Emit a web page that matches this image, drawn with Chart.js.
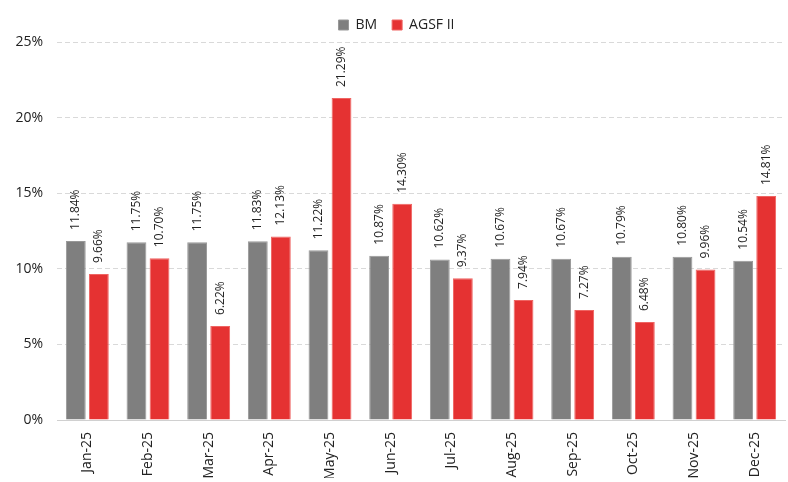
<!DOCTYPE html>
<html><head><meta charset="utf-8">
<script src="https://cdn.jsdelivr.net/npm/chart.js@4"></script>
<style>html,body{margin:0;padding:0;background:#fff}#wrap{width:788px;height:482px}</style>
</head><body><div id="wrap"><canvas id="c" width="788" height="482"></canvas></div>
<script>
const categories = ["Jan-25","Feb-25","Mar-25","Apr-25","May-25","Jun-25","Jul-25","Aug-25","Sep-25","Oct-25","Nov-25","Dec-25"];
const bmValues = [11.84,11.75,11.75,11.83,11.22,10.87,10.62,10.67,10.67,10.79,10.80,10.54];
const agsfValues = [9.66,10.70,6.22,12.13,21.29,14.30,9.37,7.94,7.27,6.48,9.96,14.81];
const seriesNames = ["BM","AGSF II"];
const yTicks = [0,5,10,15,20,25];

const FONT = "'Open Sans', 'Noto Sans', sans-serif";

const labelPlugin = {
  id: 'vlabels',
  afterDatasetsDraw(chart) {
    const ctx = chart.ctx;
    ctx.save();
    ctx.font = "12px " + FONT;
    ctx.fillStyle = '#222';
    ctx.textAlign = 'left';
    ctx.textBaseline = 'middle';
    chart.data.datasets.forEach((ds, di) => {
      const meta = chart.getDatasetMeta(di);
      meta.data.forEach((bar, i) => {
        ctx.save();
        ctx.translate(bar.x, bar.y - 11);
        ctx.rotate(-Math.PI / 2);
        ctx.fillText(ds.data[i].toFixed(2) + '%', 0, 0);
        ctx.restore();
      });
    });
    ctx.restore();
  }
};

new Chart(document.getElementById('c'), {
  type: 'bar',
  data: {
    labels: categories,
    datasets: [
      { label: seriesNames[0], data: bmValues, backgroundColor: '#7f7f7f', borderColor: '#989898', borderWidth: 1 },
      { label: seriesNames[1], data: agsfValues, backgroundColor: '#e53232', borderColor: '#ef6462', borderWidth: 1 }
    ]
  },
  options: {
    responsive: false,
    animation: false,
    devicePixelRatio: 1,
    layout: { padding: { left: 8, right: 3, top: 3, bottom: 4 } },
    datasets: { bar: { categoryPercentage: 0.76, barPercentage: 0.86 } },
    plugins: {
      legend: {
        position: 'top',
        labels: {
          font: { family: FONT, size: 14 },
          color: '#222',
          boxWidth: 10, boxHeight: 10,
          padding: 15
        }
      },
      tooltip: { enabled: false }
    },
    scales: {
      x: {
        grid: { display: false, drawTicks: false },
        border: { color: '#d0d0d0', width: 1 },
        ticks: {
          font: { family: FONT, size: 14 }, color: '#222',
          maxRotation: 90, minRotation: 90, padding: 12
        },
        afterFit(s) { s.height = 58; }
      },
      y: {
        min: 0, max: 25,
        afterBuildTicks(s) { s.ticks = yTicks.map(v => ({ value: v })); },
        grid: { color: '#d9d9d9', drawTicks: false },
        border: { display: false, dash: [5, 3] },
        ticks: {
          font: { family: FONT, size: 14 }, color: '#222', padding: 14,
          callback: v => v + '%'
        },
        afterFit(s) { s.width = 49; }
      }
    }
  },
  plugins: [labelPlugin]
});
</script></body></html>
